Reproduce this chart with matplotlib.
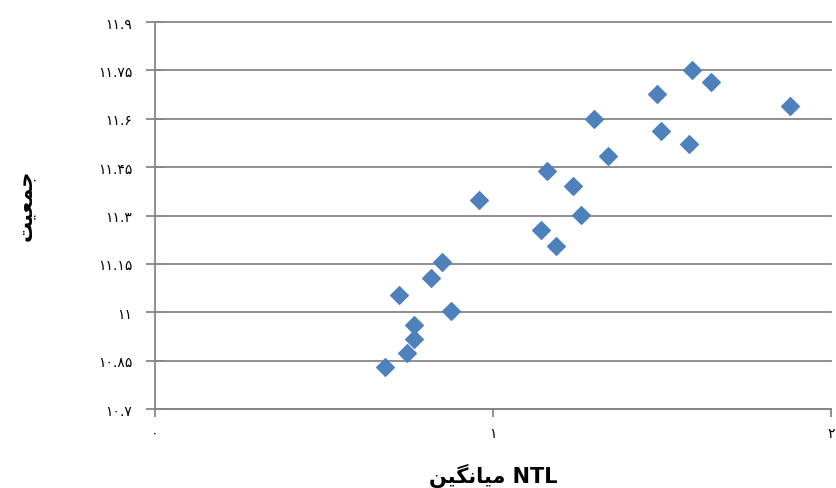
import matplotlib
matplotlib.use('Agg')
import matplotlib.pyplot as plt

# mean NTL (x) and population (y)
ntl = [0.680, 0.746, 0.767, 0.767, 0.723, 0.875, 0.817, 0.848, 0.959, 1.141, 1.186,
       1.259, 1.159, 1.236, 1.341, 1.299, 1.496, 1.580, 1.486, 1.588, 1.646, 1.879]
pop = [10.829, 10.874, 10.917, 10.961, 11.054, 11.005, 11.105, 11.155, 11.348, 11.256, 11.206,
       11.302, 11.439, 11.392, 11.485, 11.599, 11.561, 11.522, 11.677, 11.751, 11.714, 11.639]

x_ticks = [0, 1, 2]
y_ticks = [10.7, 10.85, 11.0, 11.15, 11.3, 11.45, 11.6, 11.75, 11.9]

# Persian labels, pre-shaped (presentation forms, visual order) since matplotlib does no shaping
x_label = '\uFEE6\uFEF4\uFB95\uFEE7\uFE8E\uFEF4\uFEE3' + ' NTL'   # میانگین NTL
y_label = '\uFE96\uFEF4\uFECC\uFEE4\uFE9F'                       # جمعیت

fa_digits = str.maketrans('0123456789', '۰۱۲۳۴۵۶۷۸۹')


def fa(v):
    s = ('%.2f' % v).rstrip('0').rstrip('.')
    return s.translate(fa_digits)


plt.rcParams['font.family'] = ['DejaVu Sans']

fig = plt.figure(figsize=(8.36, 4.89), dpi=100)
ax = fig.add_axes([155 / 836, 79 / 489, 676 / 836, 387 / 489])

ax.plot(ntl, pop, linestyle='none', marker='D', markersize=9.2,
        markerfacecolor='#4F81BD', markeredgecolor='#4A7EBB', markeredgewidth=0.8, zorder=3)

ax.set_xlim(0, 2)
ax.set_ylim(10.7, 11.9)
ax.set_xticks(x_ticks)
ax.set_xticklabels([fa(v) for v in x_ticks], fontsize=10)
ax.set_yticks(y_ticks)
ax.set_yticklabels([fa(v) for v in y_ticks], fontsize=10)

ax.grid(axis='y', color='#868686', linewidth=1.3)
for gl in ax.get_ygridlines():
    gl.set_clip_on(False)
ax.set_axisbelow(True)
for side in ['top', 'right']:
    ax.spines[side].set_visible(False)
for side in ['left', 'bottom']:
    ax.spines[side].set_color('#868686')
    ax.spines[side].set_linewidth(1.3)

ax.tick_params(axis='y', direction='inout', length=13, width=1.3, color='#868686', pad=10)
ax.tick_params(axis='x', direction='out', length=6, width=1.3, color='#868686', pad=6)

ax.set_xlabel(x_label, fontsize=15, fontweight='bold')
ax.xaxis.set_label_coords(0.5, -0.138)
ax.set_ylabel(y_label, fontsize=15, fontweight='bold')
ax.yaxis.set_label_coords(-0.178, 0.53)

fig.savefig('out.png', dpi=100)
